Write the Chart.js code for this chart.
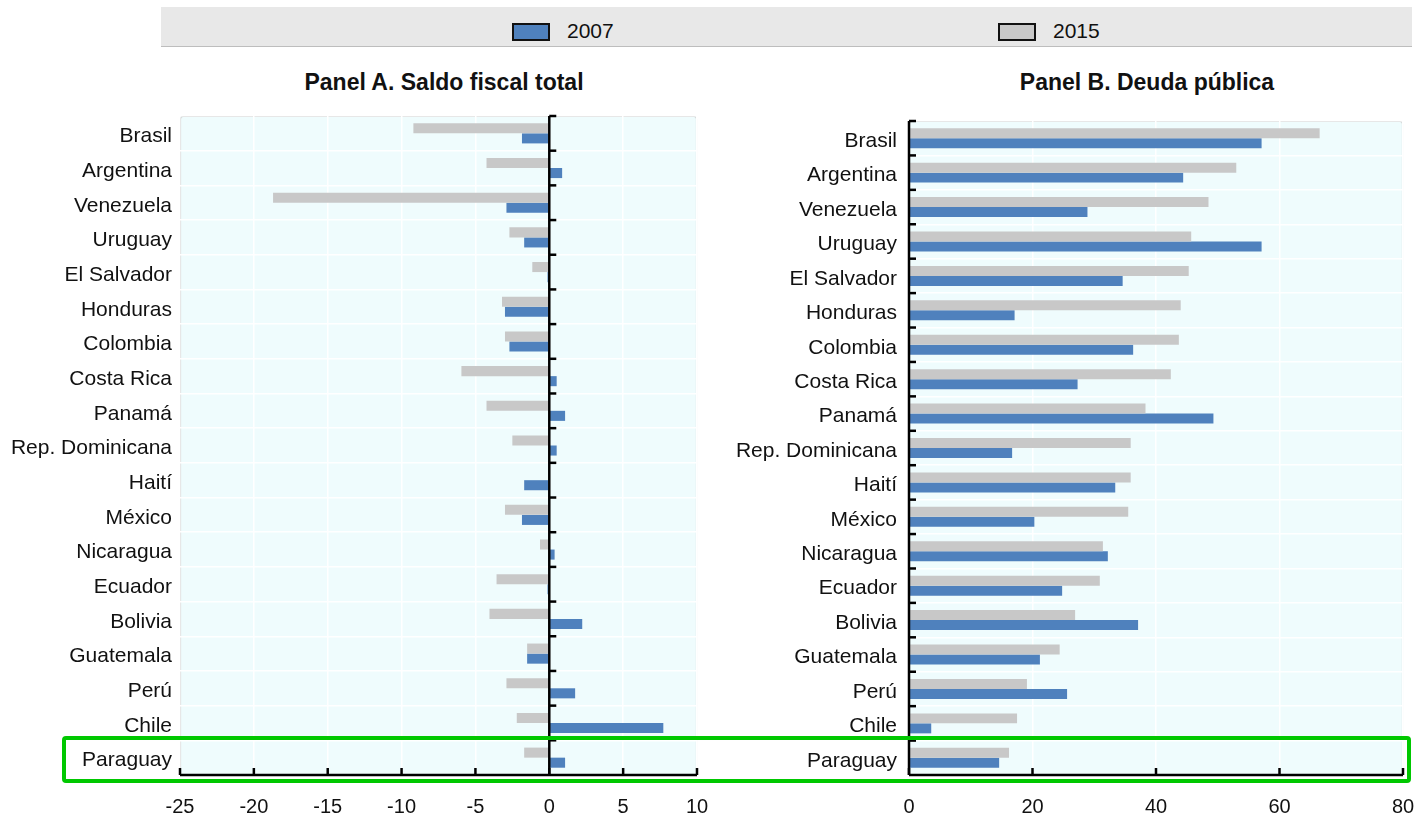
<!DOCTYPE html>
<html>
<head>
<meta charset="utf-8">
<script src="https://cdn.jsdelivr.net/npm/chart.js@4.4.0/dist/chart.umd.min.js"></script>
<style>
  html, body { margin:0; padding:0; background:#fff; width:1418px; height:822px; overflow:hidden; }
  body { position:relative; font-family:'Liberation Sans Narrow','Arial Narrow','Liberation Sans',sans-serif; }
  #legend { position:absolute; left:161px; top:7px; width:1251px; height:39px; background:#E8E8E8; border-bottom:1px solid #BDBDBD; }
  .sw { position:absolute; top:16px; width:34px; height:14px; border:2px solid #111; }
  .lt { position:absolute; top:11px; font-size:21px; color:#111; line-height:26px; }
  .title { position:absolute; top:67px; font-weight:bold; font-size:23px; color:#111; white-space:nowrap; transform:translateX(-50%); line-height:30px; }
  #cA { position:absolute; left:0; top:0; }
  #cB { position:absolute; left:720px; top:0; }
  #hl { position:absolute; left:62px; top:736px; width:1341px; height:39px; border:4px solid #00C800; border-radius:4px; pointer-events:none; }
</style>
</head>
<body>
<div id="legend">
  <div class="sw" style="left:351px;background:#4F81BD"></div>
  <div class="lt" style="left:406px">2007</div>
  <div class="sw" style="left:837px;background:#C8C8C8"></div>
  <div class="lt" style="left:892px">2015</div>
</div>
<div class="title" style="left:444px">Panel A. Saldo fiscal total</div>
<div class="title" style="left:1147px">Panel B. Deuda pública</div>
<canvas id="cA" width="720" height="822"></canvas>
<canvas id="cB" width="698" height="822"></canvas>
<div id="hl"></div>
<script>
const countries = ["Brasil","Argentina","Venezuela","Uruguay","El Salvador","Honduras","Colombia","Costa Rica","Panamá","Rep. Dominicana","Haití","México","Nicaragua","Ecuador","Bolivia","Guatemala","Perú","Chile","Paraguay"];
const seriesNames = ["2007","2015"];
const fiscal2007 = [-1.85,0.87,-2.9,-1.7,-0.12,-3.0,-2.7,0.5,1.07,0.5,-1.7,-1.85,0.36,-0.12,2.23,-1.5,1.75,7.72,1.07];
const fiscal2015 = [-9.2,-4.25,-18.7,-2.7,-1.15,-3.2,-3.0,-5.95,-4.25,-2.5,0.05,-3.0,-0.63,-3.57,-4.05,-1.5,-2.9,-2.2,-1.7];
const debt2007 = [57.1,44.4,28.9,57.1,34.6,17.1,36.3,27.3,49.3,16.7,33.4,20.3,32.2,24.8,37.1,21.2,25.6,3.6,14.6];
const debt2015 = [66.5,53.0,48.5,45.7,45.3,44.0,43.7,42.4,38.3,35.9,35.9,35.5,31.4,30.9,26.9,24.4,19.1,17.5,16.2];
const xTicksA = {min:-25, max:10, step:5};
const xTicksB = {min:0, max:80, step:20};

const FONT = "'Liberation Sans Narrow','Arial Narrow','Liberation Sans',sans-serif";
const BLUE = '#4F81BD', GREY = '#C8C8C8';

const decor = {
  id:'decor',
  beforeDraw(chart) {
    const a = chart.chartArea, ctx = chart.ctx;
    ctx.save();
    ctx.fillStyle = '#EFFCFD';
    ctx.fillRect(a.left, a.top, a.right - a.left, a.bottom - a.top);
    ctx.strokeStyle = '#CFCFCF'; ctx.lineWidth = 1.2;
    ctx.beginPath();
    ctx.moveTo(a.left + 0.5, a.bottom);
    ctx.lineTo(a.left + 0.5, a.top + 3);
    ctx.quadraticCurveTo(a.left + 0.5, a.top + 0.5, a.left + 3, a.top + 0.5);
    ctx.lineTo(a.right - 3, a.top + 0.5);
    ctx.quadraticCurveTo(a.right - 0.5, a.top + 0.5, a.right - 0.5, a.top + 3);
    ctx.lineTo(a.right - 0.5, a.bottom);
    ctx.stroke();
    ctx.restore();
  },
  afterDatasetsDraw(chart) {
    const a = chart.chartArea, ctx = chart.ctx;
    const xs = chart.scales.x, ys = chart.scales.y;
    const x0 = xs.getPixelForValue(0);
    ctx.save();
    ctx.strokeStyle = '#000';
    ctx.lineWidth = 2.5;
    ctx.beginPath();
    ctx.moveTo(x0, a.top); ctx.lineTo(x0, a.bottom);
    ctx.stroke();
    const n = chart.data.labels.length;
    const step = (ys.getPixelForValue(1) - ys.getPixelForValue(0));
    for (let i = 0; i < n; i++) {
      const yb = ys.getPixelForValue(i) - step / 2;
      ctx.beginPath(); ctx.moveTo(x0, yb); ctx.lineTo(x0 + 7, yb); ctx.stroke();
    }
    ctx.beginPath(); ctx.moveTo(a.left, a.bottom); ctx.lineTo(a.right, a.bottom); ctx.stroke();
    xs.ticks.forEach(t => {
      const px = xs.getPixelForValue(t.value);
      ctx.beginPath(); ctx.moveTo(px, a.bottom); ctx.lineTo(px, a.bottom - 7); ctx.stroke();
    });
    ctx.restore();
  }
};

function makeChart(id, d07, d15, xr, yWidth, pad, labPad, target) {
  const chart = new Chart(document.getElementById(id), {
    type:'bar',
    data:{
      labels:countries,
      datasets:[
        {label:seriesNames[1], data:d15, backgroundColor:GREY, barPercentage:1, categoryPercentage:0.58},
        {label:seriesNames[0], data:d07, backgroundColor:BLUE, barPercentage:1, categoryPercentage:0.58}
      ]
    },
    options:{
      indexAxis:'y',
      responsive:false,
      animation:false,
      layout:{padding:pad, autoPadding:false},
      plugins:{legend:{display:false}, tooltip:{enabled:false}},
      scales:{
        x:{
          min:xr.min, max:xr.max,
          ticks:{stepSize:xr.step, color:'#111', font:{family:FONT, size:20}, padding:20, maxRotation:0},
          grid:{color:'#FFFFFF', lineWidth:1.5, drawTicks:false},
          border:{display:false},
          afterFit(s){ s.height = 47; s.paddingLeft = 0; s.paddingRight = 0; }
        },
        y:{
          ticks:{color:'#111', font:{family:FONT, size:21}, padding:labPad, autoSkip:false, labelOffset:3},
          grid:{color:'#FFFFFF', lineWidth:1.5, drawTicks:false, offset:true},
          border:{display:false},
          afterFit(s){ s.width = yWidth; s.paddingTop = 0; s.paddingBottom = 0; }
        }
      }
    },
    plugins:[decor]
  });
  // fine-tune layout padding so the plot area lands on the target edges
  const a = chart.chartArea;
  const p = chart.options.layout.padding;
  p.right = pad.right + (a.right - target.right);
  p.top = pad.top + (target.top - a.top);
  p.bottom = pad.bottom + (a.bottom - target.bottom);
  chart.update();
  return chart;
}

makeChart('cA', fiscal2007, fiscal2015, xTicksA, 180, {top:116, right:23, left:0, bottom:0}, 8, {right:697, top:116, bottom:775});
makeChart('cB', debt2007, debt2015, xTicksB, 189, {top:121, right:15, left:0, bottom:0}, 12, {right:683, top:121, bottom:775});
</script>
</body>
</html>
